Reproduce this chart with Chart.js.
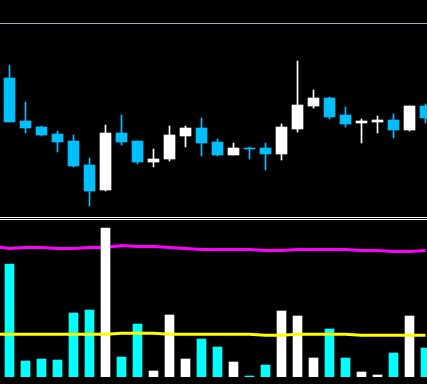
<!DOCTYPE html>
<html><head><meta charset="utf-8">
<script src="https://cdn.jsdelivr.net/npm/chart.js@4.4.1/dist/chart.umd.min.js"></script>
<style>
html,body{margin:0;padding:0;background:#000;width:427px;height:384px;overflow:hidden;}
#top{position:absolute;left:0;top:0;width:427px;height:217px;}
#sep1{position:absolute;left:0;top:217px;width:427px;height:1px;background:#fff;}
#sep2{position:absolute;left:0;top:219px;width:427px;height:1px;background:#fff;}
#bot{position:absolute;left:0;top:220px;width:427px;height:164px;}
canvas{display:block;}
</style></head><body>
<div id="top"><canvas id="c1" width="427" height="217" style="width:427px;height:217px"></canvas></div>
<div id="sep1"></div><div id="sep2"></div>
<div id="bot"><canvas id="c2" width="427" height="164" style="width:427px;height:164px"></canvas></div>
<script>
// ---- data ----
const opens  = [1.0922,1.0879,1.0873,1.0866,1.0859,1.0835,1.0810,1.0867,1.0859,1.0838,1.0841,1.0864,1.0872,1.0858,1.0845,1.0852,1.0852,1.0846,1.0871,1.0894,1.0902,1.0885,1.0877,1.0878,1.0880,1.0870,1.0894];
const highs  = [1.0935,1.0898,1.0874,1.0869,1.0865,1.0842,1.0875,1.0885,1.0859,1.0851,1.0874,1.0874,1.0882,1.0861,1.0857,1.0853,1.0857,1.0876,1.0939,1.0910,1.0903,1.0893,1.0881,1.0884,1.0886,1.0894,1.0896];
const lows   = [1.0878,1.0867,1.0864,1.0848,1.0833,1.0794,1.0809,1.0855,1.0836,1.0833,1.0839,1.0853,1.0844,1.0844,1.0845,1.0841,1.0830,1.0840,1.0868,1.0892,1.0881,1.0873,1.0857,1.0867,1.0862,1.0869,1.0877];
const closes = [1.0878,1.0872,1.0865,1.0858,1.0834,1.0809,1.0867,1.0858,1.0838,1.0841,1.0865,1.0872,1.0857,1.0845,1.0852,1.0851,1.0846,1.0873,1.0895,1.0902,1.0883,1.0876,1.0879,1.0880,1.0870,1.0894,1.0882];
const levelPrice = 1.0977;
const volumes = [1130,160,180,170,640,670,1490,200,530,60,620,180,380,300,150,10,120,660,610,190,480,190,50,20,240,610,290];
// indicator lines: first value belongs to the bar before the first visible one
const upperLine = [1305,1285,1295,1295,1285,1285,1295,1295,1315,1305,1305,1295,1285,1275,1275,1275,1275,1265,1265,1275,1275,1275,1275,1265,1265,1255,1255,1265];
const avgLine   = [428,428,428,428,428,428,428,428,438,438,438,428,428,428,428,428,428,418,418,428,428,428,428,418,418,418,418,418];

// ---- styles ----
const BULL = '#ffffff', BEAR = '#00bfff', VBEAR = '#00ffff';
const idx = opens.map((_, i) => i);
const isBull = idx.map(i => closes[i] >= opens[i]);
const xScale = {type:'linear', min:-0.59375, max:26.09375, display:false, offset:false};

Chart.defaults.animation = false;

new Chart(document.getElementById('c1'), {
  type:'bar',
  data:{datasets:[
    {label:'body', data: idx.map(i => ({x:i, y:[opens[i], closes[i]]})),
     backgroundColor: idx.map(i => isBull[i] ? BULL : BEAR), borderWidth:0,
     barThickness:11, grouped:false, borderSkipped:false},
    {label:'wick', data: idx.map(i => ({x:i, y:[lows[i], highs[i]]})),
     backgroundColor: idx.map(i => isBull[i] ? BULL : BEAR), borderWidth:0,
     barThickness:1, grouped:false, borderSkipped:false}
  ]},
  options:{
    responsive:false, devicePixelRatio:1, animation:false,
    layout:{padding:0},
    plugins:{legend:{display:false}, tooltip:{enabled:false}},
    scales:{
      x: xScale,
      y:{type:'linear', min:1.0783, max:1.1000, display:true,
         afterBuildTicks: s => { s.ticks = [{value: levelPrice}]; },
         ticks:{display:false}, border:{display:false},
         grid:{color:'#a4acb8', lineWidth:1, drawTicks:false, tickLength:0}}
    }
  }
});

new Chart(document.getElementById('c2'), {
  type:'bar',
  data:{datasets:[
    {type:'line', label:'upper', order:2, data: upperLine.map((v, k) => ({x:k-1, y:v})),
     borderColor:'#ff00ff', borderWidth:3, pointRadius:0, tension:0, fill:false},
    {type:'line', label:'avg', order:0, data: avgLine.map((v, k) => ({x:k-1, y:v})),
     borderColor:'#ffff00', borderWidth:3, pointRadius:0, tension:0, fill:false},
    {label:'volume', order:1, data: idx.map(i => ({x:i, y:volumes[i]})),
     backgroundColor: idx.map(i => isBull[i] ? BULL : VBEAR), borderWidth:0,
     barThickness:9, grouped:false}
  ]},
  options:{
    responsive:false, devicePixelRatio:1, animation:false,
    layout:{padding:{left:0,right:0,top:0,bottom:7}},
    plugins:{legend:{display:false}, tooltip:{enabled:false}},
    scales:{
      x: xScale,
      y:{type:'linear', min:0, max:1570, display:false}
    }
  }
});
</script>
</body></html>
